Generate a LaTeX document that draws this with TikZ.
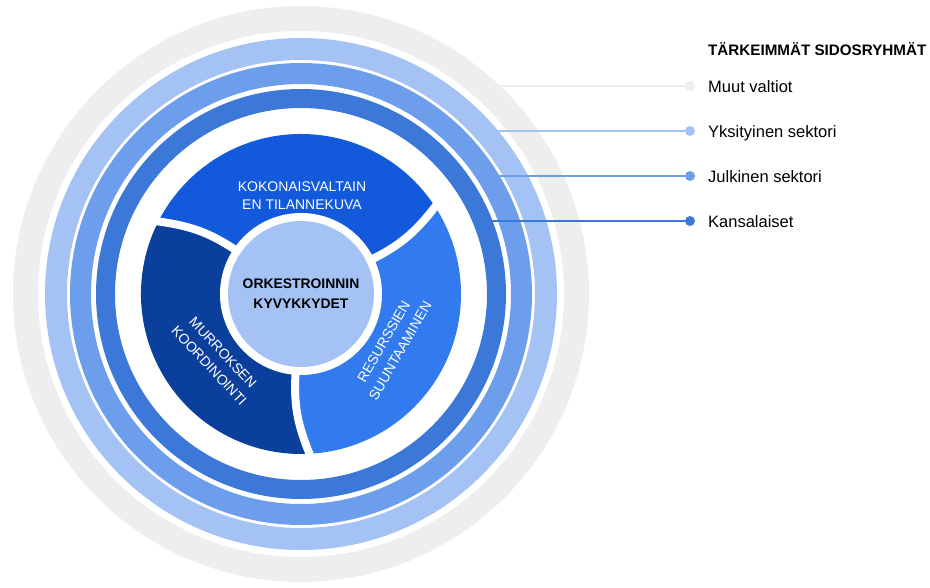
\documentclass[tikz,border=0pt]{standalone}
\usepackage{fontspec}
\setmainfont{Liberation Sans}
\usepackage{tikz}
\usepackage{xcolor}
\usetikzlibrary{positioning}
\tikzset{>=latex}

\definecolor{ringGray}{HTML}{EEEEEE}
\definecolor{ringLight}{HTML}{A4C2F4}
\definecolor{ringMid}{HTML}{6D9EEB}
\definecolor{ringDark}{HTML}{3C78D8}
\definecolor{segTop}{HTML}{1259DB}
\definecolor{segLeft}{HTML}{0B3F9C}
\definecolor{segRight}{HTML}{317BEF}

\begin{document}
\begin{tikzpicture}[
            x=1pt, y=1pt,
            gap/.style={white, line width=8pt, shorten <=-12pt, shorten >=-12pt},
            seglabel/.style={text=white, align=center, inner sep=0pt, font=\fontsize{14}{19}\selectfont},
            dot/.style={circle, inner sep=0pt, minimum size=10pt},
            legendtext/.style={anchor=base west, inner sep=0pt, font=\fontsize{16.5}{20}\selectfont}
        ]
        \useasboundingbox (-301,-293) rectangle (629,294);
        % stakeholder rings
        \foreach \r/\w/\col in {275.5/25/ringGray, 245/22/ringLight, 220.5/21/ringMid, 195.5/19/ringDark} {
            \draw[\col, line width=\w pt] (0,0) circle (\r);
        }
        % capability segments
        \foreach \a/\b/\col in {26/146/segTop, 146/266/segLeft, 266/386/segRight} {
            \fill[\col] (\a:73) to[bend right=15] ({\a+7}:160)
                arc[start angle=\a+7, end angle=\b+7, radius=160]
                to[bend left=15] (\b:73)
                arc[start angle=\b, end angle=\a, radius=73] -- cycle;
        }
        \foreach \a in {26, 146, 266} {
            \draw[gap] (\a:73) to[bend right=15] ({\a+7}:160);
        }
        \fill[white] (0,0) circle (81);
        \node[circle, fill=ringLight, minimum size=146pt, inner sep=0pt, align=center,
              font=\bfseries\fontsize{13.9}{20}\selectfont] (core) at (0,0) {ORKESTROINNIN\\KYVYKKYDET};
        \node[seglabel, font=\fontsize{14}{18}\selectfont] (picture) at (1,98) {KOKONAISVALTAIN\\EN TILANNEKUVA};
        \node[seglabel, rotate=-47] (crisis) at (-85,-65) {MURROKSEN\\KOORDINOINTI};
        \node[seglabel, rotate=60] (resources) at (91,-52) {RESURSSIEN\\SUUNTAAMINEN};
        % legend
        \node[anchor=base west, inner sep=0pt, font=\bfseries\fontsize{15.2}{18}\selectfont] (legendTitle) at (407,239) {TÄRKEIMMÄT SIDOSRYHMÄT};
        \foreach \name/\y/\x/\col/\txt in {muut/208/199/ringGray/Muut valtiot, yks/163/197/ringLight/Yksityinen sektori,
                                          julk/118/198/ringMid/Julkinen sektori, kans/73/191/ringDark/Kansalaiset} {
            \coordinate (\name Start) at (\x,\y);
            \node[dot, fill=\col] (\name Dot) at (389,\y) {};
            \node[legendtext] (\name Text) at (407,{\y-6}) {\txt};
            \draw[\col, line width=2.2pt] (\name Start) -- (\name Dot);
        }
        \end{tikzpicture}
\end{document}
